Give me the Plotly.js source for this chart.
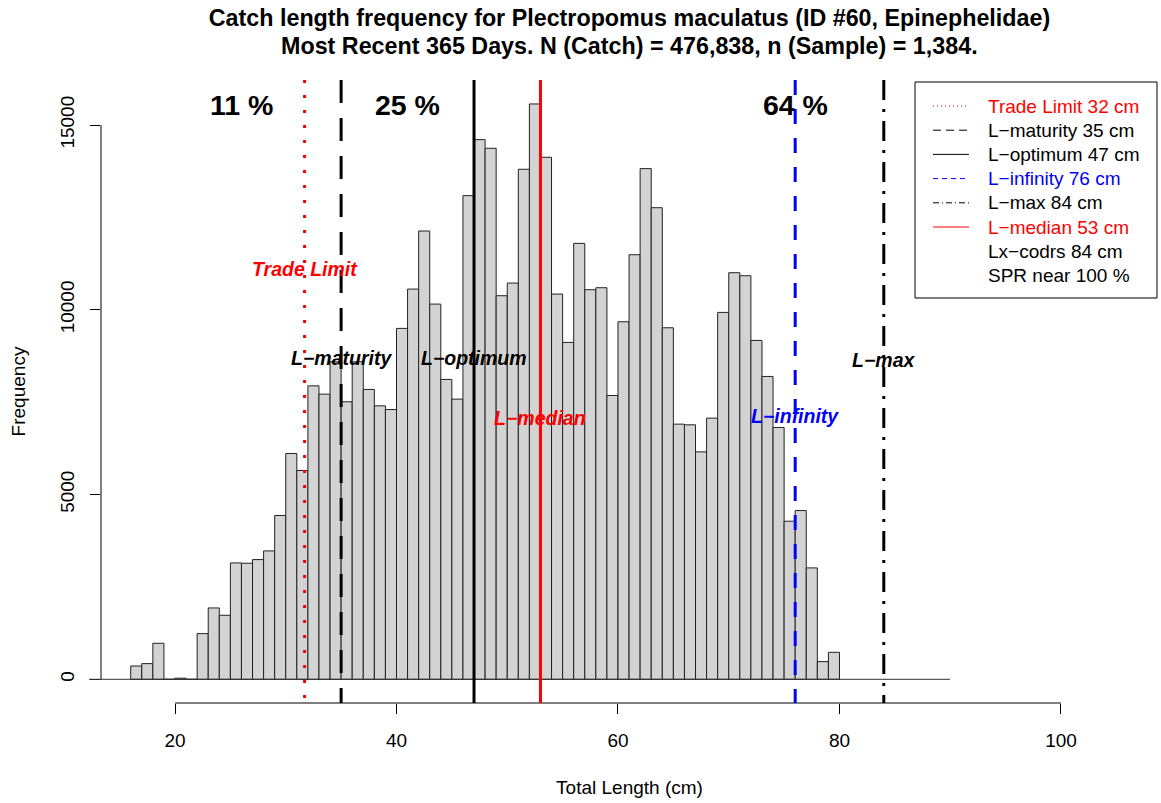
<!DOCTYPE html>
<html><head><meta charset="utf-8">
<script src="https://cdn.plot.ly/plotly-3.0.1.min.js"></script>
<style>html,body{margin:0;padding:0;background:#fff;} #chart{width:1161px;height:803px;}</style>
</head><body><div id="chart"></div>
<script>
// ---- data ----
const binLeft = [16,17,18,19,20,21,22,23,24,25,26,27,28,29,30,31,32,33,34,35,36,37,38,39,40,41,42,43,44,45,46,47,48,49,50,51,52,53,54,55,56,57,58,59,60,61,62,63,64,65,66,67,68,69,70,71,72,73,74,75,76,77,78,79];
const counts = [360,425,975,0,30,0,1237,1931,1733,3150,3141,3240,3475,4432,6111,5650,7942,7717,8592,7510,8592,7844,7401,7300,9496,10560,12131,10154,8115,7582,13088,14604,14370,10380,10723,13802,15570,14127,10425,9117,11797,10543,10597,7681,9676,11490,13820,12762,9513,6905,6887,6155,7068,9929,11003,10921,9171,8196,6815,4278,4567,3015,479,731];
const refNames = ['Trade Limit','L\u2212maturity','L\u2212optimum','L\u2212infinity','L\u2212max','L\u2212median'];
const refLengths = [31.7,35,47,76,84,53];
const refColors = ['#FF0000','#000000','#000000','#0000FF','#000000','#FF0000'];
const refLabelY = [11100,8695,8695,7125,8641,7071];
const pctLabels = ['11 %','25 %','64 %'];
const pctX = [26,41,76];
const pctY = 15550;
const legendExtra = ['Lx\u2212codrs 84 cm','SPR near 100 %'];
const xTicks = [20,40,60,80,100];
const yTicks = [0,5000,10000,15000];
const titleLines = ['Catch length frequency for Plectropomus maculatus (ID #60, Epinephelidae)',
                    'Most Recent 365 Days. N (Catch) = 476,838, n (Sample) = 1,384.'];

// ---- styles / geometry ----
const FONT = 'Liberation Sans, Arial, Helvetica, sans-serif';
const W = 1161, H = 803;
const M = {l:101, r:3, t:80, b:100};
const PW = W - M.l - M.r, PH = H - M.t - M.b;
const px2x = p => (p - M.l) / PW;
const py2y = p => (H - M.b - p) / PH;
const refDash = ['3px,12px','23px,15px','solid','15px,14px','20px,9px,3px,9px','solid'];
const legDash = ['1px,3px','8px,5px','solid','5px,4px','6px,3px,1px,3px','solid'];

const traces = [{
  type: 'bar',
  x: binLeft, y: counts, offset: 0, width: 1,
  marker: {color: '#D3D3D3', line: {color: '#222222', width: 1}},
  hoverinfo: 'x+y', showlegend: false
}];

const shapes = [];
const annotations = [];

// baseline
shapes.push({type:'line', xref:'paper', yref:'y', x0:px2x(89), x1:px2x(950), y0:0, y1:0, line:{color:'#333333', width:1}});
// axes lines (R-style, only tick span)
shapes.push({type:'line', xref:'x', yref:'paper', x0:xTicks[0], x1:xTicks[xTicks.length-1], y0:0, y1:0, line:{color:'#000', width:1}});
shapes.push({type:'line', xref:'paper', yref:'y', x0:0, x1:0, y0:yTicks[0], y1:yTicks[yTicks.length-1], line:{color:'#000', width:1}});

// reference lines + labels
refLengths.forEach((v,i) => {
  shapes.push({type:'line', xref:'x', yref:'paper', x0:v, x1:v, y0:1, y1:0,
    line:{color:refColors[i], width:3, dash:refDash[i]}});
  annotations.push({xref:'x', yref:'y', x:v, y:refLabelY[i], text:refNames[i], showarrow:false,
    xanchor:'center', yanchor:'middle',
    font:{family:FONT, size:19.5, color:refColors[i], weight:'bold', style:'italic'}});
});

// percentage labels
pctLabels.forEach((t,i) => {
  annotations.push({xref:'x', yref:'y', x:pctX[i], y:pctY, text:t, showarrow:false,
    xanchor:'center', yanchor:'middle', font:{family:FONT, size:28.5, color:'#000', weight:'bold'}});
});

// title line 2
annotations.push({xref:'paper', yref:'paper', x:0.5, y:py2y(46), text:titleLines[1], showarrow:false,
  xanchor:'center', yanchor:'middle', font:{family:FONT, size:23.3, color:'#000', weight:'bold'}});

// legend (manual, R-style)
shapes.push({type:'rect', xref:'paper', yref:'paper', x0:px2x(915), x1:px2x(1157), y0:py2y(298), y1:py2y(82),
  line:{color:'#000', width:1}, fillcolor:'rgba(255,255,255,0)'});
const legLabels = refNames.map((n,i) => n + ' ' + Math.round(refLengths[i]) + ' cm').concat(legendExtra);
legLabels.forEach((t,i) => {
  const yy = py2y(106 + i*24.2);
  if (i < refNames.length) {
    shapes.push({type:'line', xref:'paper', yref:'paper', x0:px2x(933), x1:px2x(969), y0:yy, y1:yy,
      line:{color:refColors[i], width:1, dash:legDash[i]}});
  }
  annotations.push({xref:'paper', yref:'paper', x:px2x(986), y:yy, text:t, showarrow:false,
    xanchor:'left', yanchor:'middle', font:{family:FONT, size:19, color: i < refNames.length ? refColors[i] : '#000'}});
});

const layout = {
  width: W, height: H,
  margin: M,
  paper_bgcolor: '#fff', plot_bgcolor: '#fff',
  showlegend: false,
  bargap: 0,
  title: {text: titleLines[0], font:{family:FONT, size:23.3, color:'#000', weight:'bold'},
    xref:'paper', x:0.5, xanchor:'center', yref:'container', y:1-18/H, yanchor:'middle'},
  xaxis: {range:[13.318,108.76], tickvals:xTicks, ticktext:xTicks.map(String),
    ticks:'outside', ticklen:10, tickwidth:1, tickcolor:'#000', ticklabelstandoff:10,
    showline:false, showgrid:false, zeroline:false,
    tickfont:{family:FONT, size:19, color:'#000'},
    title:{text:'Total Length (cm)', font:{family:FONT, size:19, color:'#000'}, standoff:30},
    automargin:false},
  yaxis: {range:[-641,16218], tickvals:yTicks, ticktext:yTicks.map(String),
    ticks:'outside', ticklen:10, tickwidth:1, tickcolor:'#000', tickangle:-90, ticklabelstandoff:8,
    showline:false, showgrid:false, zeroline:false,
    tickfont:{family:FONT, size:19, color:'#000'},
    title:{text:'Frequency', font:{family:FONT, size:19, color:'#000'}, standoff:26},
    automargin:false},
  shapes: shapes,
  annotations: annotations
};

Plotly.newPlot('chart', traces, layout, {displayModeBar:false, staticPlot:true});
</script>
</body></html>
